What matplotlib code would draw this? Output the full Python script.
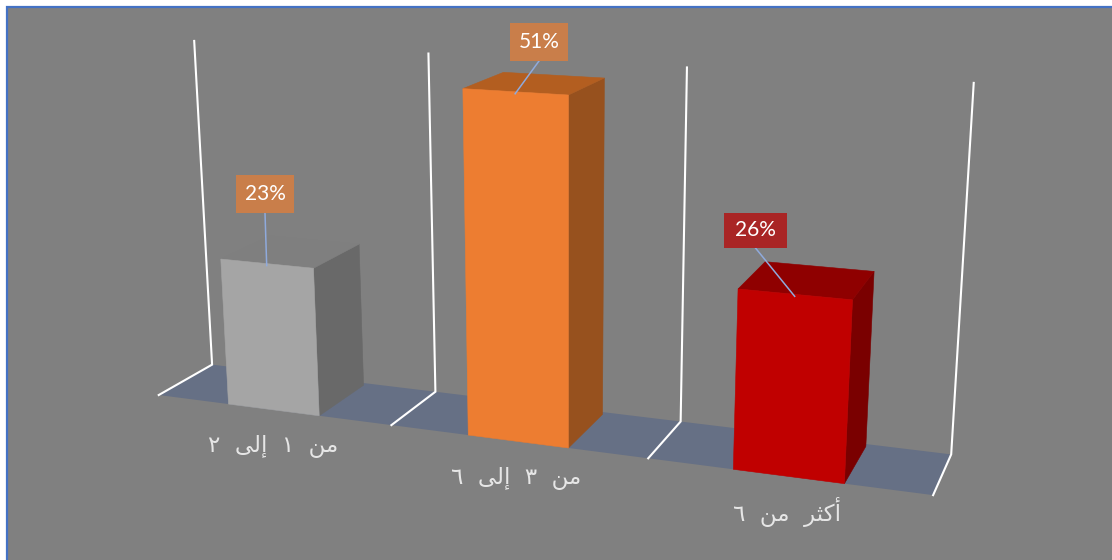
import numpy as np
import matplotlib
matplotlib.use("Agg")
import matplotlib.pyplot as plt
from matplotlib.patches import Polygon, Rectangle

# Chart data
categories = ["من ١ إلى ٢", "من ٣ إلى ٦", "أكثر من ٦"]
percentages = [23, 51, 26]
axis_max = 53

# Per-bar colours: front, side and top faces
front_colors = ["#A5A5A5", "#ED7D31", "#C00000"]
side_colors = ["#696969", "#97511E", "#7A0000"]
top_colors = ["#7F7F7F", "#B35E20", "#8F0000"]
badge_colors = ["#C97E4A", "#C97E4A", "#A92525"]

# Badge rectangles (left, top, width, height) in pixels, and category label centres
badge_boxes = [(236, 175, 58, 38), (510, 23, 58, 38), (724, 213, 63, 35)]
label_centres = [(273, 446), (516, 478), (787, 512)]

W, H = 1112, 560
BACKGROUND = "#808080"
FLOOR = "#667085"
LEADER = "#8FAADC"
BORDER = "#4472C4"

# Perspective view matrix: (category, value / 50, depth, 1) -> homogeneous pixels / 1000
VIEW = np.array([
    [+0.214279, -0.026987, +0.064213, +0.158732],
    [+0.010098, -0.322946, -0.011745, +0.395036],
    [-0.046991, -0.047579, +0.051176, +1.000000],
])
BAR_OFFSET = 0.505
BAR_HALF_WIDTH = 0.195
BAR_DEPTH = 0.94


def project(x, y, z):
    """Map a scene point (category position, value, depth) to pixel coordinates."""
    r = VIEW @ np.array([x, y / 50.0, z, 1.0])
    return r[0] / r[2] * 1000, r[1] / r[2] * 1000


# Joining forms for the letters used by the labels: isolated, final, initial, medial
FORMS = {
    "م": "\uFEE1\uFEE2\uFEE3\uFEE4",
    "ن": "\uFEE5\uFEE6\uFEE7\uFEE8",
    "ك": "\uFED9\uFEDA\uFEDB\uFEDC",
    "ث": "\uFE99\uFE9A\uFE9B\uFE9C",
    "ل": "\uFEDD\uFEDE\uFEDF\uFEE0",
    "أ": "\uFE83\uFE84\uFE83\uFE84",
    "إ": "\uFE87\uFE88\uFE87\uFE88",
    "ر": "\uFEAD\uFEAE\uFEAD\uFEAE",
    "ى": "\uFEEF\uFEF0\uFEEF\uFEF0",
}
NON_LINKING = set("أإرى")


def shape(text):
    """Give Arabic text its joined letter forms, in left-to-right drawing order."""
    out = []
    for word in text.split(" "):
        glyphs = []
        for i, ch in enumerate(word):
            if ch not in FORMS:
                glyphs.append(ch)
                continue
            joins_prev = i > 0 and word[i - 1] in FORMS and word[i - 1] not in NON_LINKING
            joins_next = i + 1 < len(word) and word[i + 1] in FORMS and ch not in NON_LINKING
            glyphs.append(FORMS[ch][2 * int(joins_next) + int(joins_prev)])
        out.append("".join(reversed(glyphs)))
    return "  ".join(reversed(out))


fig = plt.figure(figsize=(W / 100, H / 100), dpi=100, facecolor="white")
ax = fig.add_axes([0, 0, 1, 1])
ax.set_xlim(0, W)
ax.set_ylim(H, 0)
ax.axis("off")

# Chart area with its blue outline running off the right and bottom edges
ax.add_patch(Rectangle((7, 7), W + 20, H + 20, facecolor=BACKGROUND, edgecolor=BORDER, linewidth=1.6, zorder=0))

n = len(categories)

# Floor plane
floor = [project(0, 0, 0), project(n, 0, 0), project(n, 0, 1), project(0, 0, 1)]
ax.add_patch(Polygon(floor, closed=True, facecolor=FLOOR, edgecolor="none", zorder=1))

# Gridlines: one along the floor and one up the back wall at each category boundary
for i in range(n + 1):
    pts = np.array([project(i, 0, 0), project(i, 0, 1), project(i, axis_max, 1)])
    ax.plot(pts[:, 0], pts[:, 1], color="white", lw=1.5, solid_joinstyle="miter", zorder=2)

for i, (value, label) in enumerate(zip(percentages, categories)):
    x0 = i + BAR_OFFSET - BAR_HALF_WIDTH
    x1 = i + BAR_OFFSET + BAR_HALF_WIDTH
    z0, z1 = 0, BAR_DEPTH

    side = [project(x1, 0, z0), project(x1, 0, z1), project(x1, value, z1), project(x1, value, z0)]
    top = [project(x0, value, z0), project(x1, value, z0), project(x1, value, z1), project(x0, value, z1)]
    face = [project(x0, 0, z0), project(x1, 0, z0), project(x1, value, z0), project(x0, value, z0)]
    for poly, colour, z in ((side, side_colors[i], 3), (top, top_colors[i], 3), (face, front_colors[i], 4)):
        ax.add_patch(Polygon(poly, closed=True, facecolor=colour, edgecolor=colour, linewidth=0.4, zorder=z))

    # Value badge with a leader down to the middle of the bar's top front edge
    left, upper, width, height = badge_boxes[i]
    tip = project((x0 + x1) / 2, value, z0)
    ax.plot([left + width / 2, tip[0]], [upper + height, tip[1] + 2], color=LEADER, lw=1.1, zorder=5)
    ax.add_patch(Rectangle((left, upper), width, height, facecolor=badge_colors[i], edgecolor="none", zorder=6))
    ax.text(left + width / 2, upper + height / 2, f"{value}%", color="white", fontsize=15,
            family="Lato", ha="center", va="center", zorder=7)

    # Category label below the floor
    cx, cy = label_centres[i]
    ax.text(cx, cy, shape(label), color="#E6E6E6", fontsize=16.5, family="DejaVu Sans",
            ha="center", va="center", zorder=7)

fig.savefig("out.png", dpi=100)
